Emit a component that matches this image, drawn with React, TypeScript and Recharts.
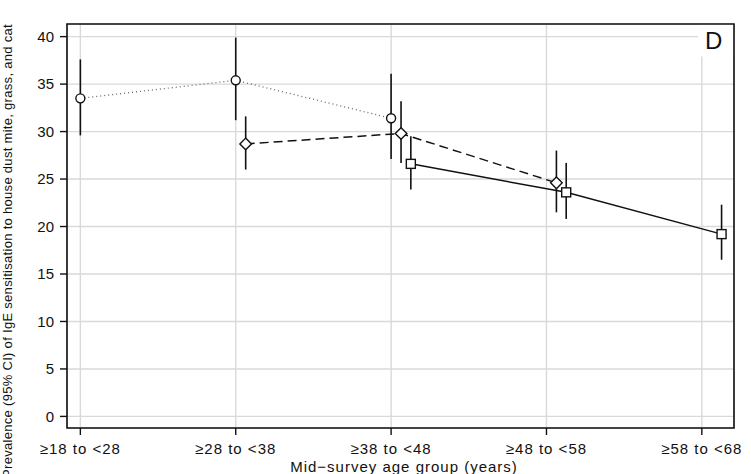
import React from 'react';
import {
  ComposedChart,
  Line,
  XAxis,
  YAxis,
  CartesianGrid,
  ErrorBar,
  ReferenceArea,
} from 'recharts';

// age groups on the x axis
const ageGroups = ['≥18 to <28', '≥28 to <38', '≥38 to <48', '≥48 to <58', '≥58 to <68'];
const yTicks = [0, 5, 10, 15, 20, 25, 30, 35, 40];

// circles (dotted)
const circleGroups = [0, 1, 2];
const circleValues = [33.5, 35.4, 31.4];
const circleLow = [29.6, 31.2, 27.1];
const circleHigh = [37.6, 39.9, 36.1];

// diamonds (dashed)
const diamondGroups = [1, 2, 3];
const diamondValues = [28.7, 29.8, 24.6];
const diamondLow = [26.0, 26.7, 21.5];
const diamondHigh = [31.6, 33.2, 28.0];

// squares (solid)
const squareGroups = [2, 3, 4];
const squareValues = [26.6, 23.6, 19.2];
const squareLow = [23.9, 20.8, 16.5];
const squareHigh = [29.5, 26.7, 22.3];

// horizontal nudge of each series within a group
const OFFSET_CIRCLE = 0;
const OFFSET_DIAMOND = 0.064;
const OFFSET_SQUARE = 0.127;

const FONT = '"Liberation Sans", Arial, Helvetica, sans-serif';

function buildRows(groups: number[], values: number[], low: number[], high: number[], offset: number) {
  return groups.map((g, i) => ({
    x: g + offset,
    y: values[i],
    err: [values[i] - low[i], high[i] - values[i]],
  }));
}

const circleData = buildRows(circleGroups, circleValues, circleLow, circleHigh, OFFSET_CIRCLE);
const diamondData = buildRows(diamondGroups, diamondValues, diamondLow, diamondHigh, OFFSET_DIAMOND);
const squareData = buildRows(squareGroups, squareValues, squareLow, squareHigh, OFFSET_SQUARE);

const CircleDot = (props: any) => {
  const { cx, cy, index } = props;
  if (cx == null || cy == null) return null;
  return <circle key={`c-${index}`} cx={cx} cy={cy} r={4.5} fill="#fff" stroke="#111" strokeWidth={1.4} />;
};

const DiamondDot = (props: any) => {
  const { cx, cy, index } = props;
  if (cx == null || cy == null) return null;
  const s = 5.8;
  return (
    <path
      key={`d-${index}`}
      d={`M${cx},${cy - s}L${cx + s},${cy}L${cx},${cy + s}L${cx - s},${cy}Z`}
      fill="#fff"
      stroke="#111"
      strokeWidth={1.4}
    />
  );
};

const SquareDot = (props: any) => {
  const { cx, cy, index } = props;
  if (cx == null || cy == null) return null;
  const s = 4.5;
  return (
    <rect key={`s-${index}`} x={cx - s} y={cy - s} width={s * 2} height={s * 2} fill="#fff" stroke="#111" strokeWidth={1.4} />
  );
};

const X_DOMAIN: [number, number] = [-0.086, 4.207];
const Y_DOMAIN: [number, number] = [-1.22, 41.33];

export default function App() {
  return (
    <div style={{ position: 'absolute', left: 0, top: 0, width: 751, height: 474, background: '#fff', overflow: 'hidden' }}>
      <ComposedChart width={751} height={474} margin={{ top: 24, right: 17, bottom: 0, left: 0 }}>
        <CartesianGrid stroke="#d9d9d9" strokeWidth={1.4} />
        <XAxis
          dataKey="x"
          type="number"
          domain={X_DOMAIN}
          allowDataOverflow
          ticks={[0, 1, 2, 3, 4]}
          tickFormatter={(v: number) => ageGroups[Math.round(v)]}
          height={46}
          tickSize={7}
          tickMargin={8}
          axisLine={false}
          tickLine={{ stroke: '#111', strokeWidth: 1.4 }}
          tick={{ fontSize: 15, fill: '#111', fontFamily: FONT, letterSpacing: 1 }}
          interval={0}
          label={() => (
            <text x={404} y={472} textAnchor="middle" fontSize={15} fill="#111" fontFamily={FONT} letterSpacing={1}>
              Mid−survey age group (years)
            </text>
          )}
        />
        <YAxis
          type="number"
          domain={Y_DOMAIN}
          allowDataOverflow
          ticks={yTicks}
          width={67}
          tickSize={7}
          tickMargin={6}
          axisLine={false}
          tickLine={{ stroke: '#111', strokeWidth: 1.4 }}
          tick={{ fontSize: 15, fill: '#111', fontFamily: FONT }}
          label={() => (
            <text
              x={12}
              y={251}
              transform="rotate(-90 12 251)"
              textAnchor="middle"
              fontSize={13}
              fill="#111"
              fontFamily={FONT}
              letterSpacing={0.3}
            >
              Prevalence (95% CI) of IgE sensitisation to house dust mite, grass, and cat
            </text>
          )}
        />
        {/* white patch behind the panel letter */}
        <ReferenceArea x1={3.975} x2={X_DOMAIN[1]} y1={37.9} y2={Y_DOMAIN[1]} fill="#fff" fillOpacity={1} stroke="none" />
        {/* plot frame */}
        <ReferenceArea
          x1={X_DOMAIN[0]}
          x2={X_DOMAIN[1]}
          y1={Y_DOMAIN[0]}
          y2={Y_DOMAIN[1]}
          fill="none"
          stroke="#111"
          strokeWidth={1.6}
        />
        <Line
          data={circleData}
          dataKey="y"
          type="linear"
          stroke="#666"
          strokeWidth={1.3}
          strokeDasharray="1 3"
          dot={CircleDot}
          activeDot={false}
          isAnimationActive={false}
        >
          <ErrorBar dataKey="err" direction="y" width={0} stroke="#111" strokeWidth={1.6} />
        </Line>
        <Line
          data={diamondData}
          dataKey="y"
          type="linear"
          stroke="#111"
          strokeWidth={1.5}
          strokeDasharray="9 5"
          dot={DiamondDot}
          activeDot={false}
          isAnimationActive={false}
        >
          <ErrorBar dataKey="err" direction="y" width={0} stroke="#111" strokeWidth={1.6} />
        </Line>
        <Line
          data={squareData}
          dataKey="y"
          type="linear"
          stroke="#111"
          strokeWidth={1.5}
          dot={SquareDot}
          activeDot={false}
          isAnimationActive={false}
        >
          <ErrorBar dataKey="err" direction="y" width={0} stroke="#111" strokeWidth={1.6} />
        </Line>
      </ComposedChart>
      <div
        style={{
          position: 'absolute',
          left: 705,
          top: 29,
          fontSize: 24,
          lineHeight: '24px',
          fontFamily: FONT,
          color: '#111',
        }}
      >
        D
      </div>
    </div>
  );
}
